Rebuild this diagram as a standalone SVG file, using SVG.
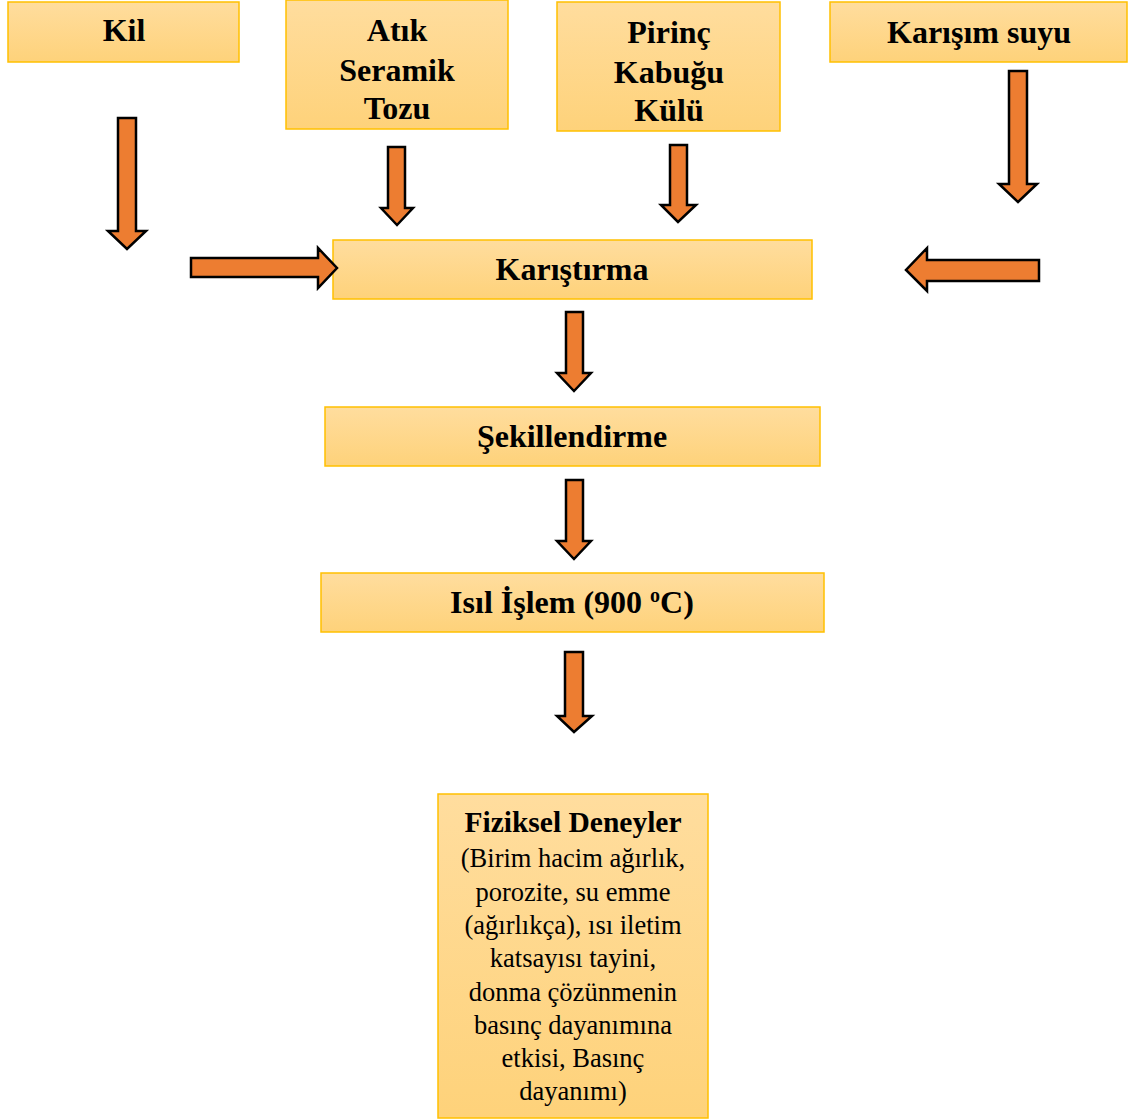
<svg xmlns="http://www.w3.org/2000/svg" width="1128" height="1119" viewBox="0 0 1128 1119">
<defs>
<linearGradient id="g" x1="0" y1="0" x2="0" y2="1">
<stop offset="0" stop-color="#FFDD9E"/>
<stop offset="1" stop-color="#FED27A"/>
</linearGradient>
<style>
.box{fill:url(#g);stroke:#FFC000;stroke-width:1.5}
.t{font-family:"Liberation Serif","Times New Roman",serif;font-weight:bold;font-size:32px;text-anchor:middle;fill:#000}
.b{font-family:"Liberation Serif","Times New Roman",serif;font-size:26.5px;text-anchor:middle;fill:#000}
.bt{font-family:"Liberation Serif","Times New Roman",serif;font-weight:bold;font-size:29.5px;text-anchor:middle;fill:#000}
.ar{fill:#ED7D31;stroke:#000;stroke-width:2.5;stroke-linejoin:miter}
</style>
</defs>
<rect width="1128" height="1119" fill="#fff"/>
<g id="kil"><rect class="box" x="8" y="2" width="231" height="60"/><text class="t" x="124" y="41">Kil</text></g>
<g id="atik"><rect class="box" x="286" y="0" width="222" height="129"/>
<text class="t" x="397" y="41">Atık</text><text class="t" x="397" y="81">Seramik</text><text class="t" x="397" y="119">Tozu</text></g>
<g id="pirinc"><rect class="box" x="557" y="2" width="223" height="129"/>
<text class="t" x="669" y="43">Pirinç</text><text class="t" x="669" y="83">Kabuğu</text><text class="t" x="669" y="121">Külü</text></g>
<g id="karisim"><rect class="box" x="830" y="2" width="297" height="60"/><text class="t" x="979" y="43">Karışım suyu</text></g>
<g id="karistirma"><rect class="box" x="333" y="240" width="479" height="59"/><text class="t" x="572" y="280">Karıştırma</text></g>
<g id="sekil"><rect class="box" x="325" y="407" width="495" height="59"/><text class="t" x="572" y="447">Şekillendirme</text></g>
<g id="isil"><rect class="box" x="321" y="573" width="503" height="59"/><text class="t" x="572" y="613">Isıl İşlem (900 <tspan font-size="20" dy="-11">o</tspan><tspan dy="11">C)</tspan></text></g>
<g id="fiziksel"><rect class="box" x="438" y="794" width="270" height="324"/>
<text class="bt" x="573" y="832">Fiziksel Deneyler</text>
<text class="b" x="573" y="867">(Birim hacim ağırlık,</text>
<text class="b" x="573" y="901">porozite, su emme</text>
<text class="b" x="573" y="934">(ağırlıkça), ısı iletim</text>
<text class="b" x="573" y="967">katsayısı tayini,</text>
<text class="b" x="573" y="1001">donma çözünmenin</text>
<text class="b" x="573" y="1034">basınç dayanımına</text>
<text class="b" x="573" y="1067">etkisi, Basınç</text>
<text class="b" x="573" y="1100">dayanımı)</text></g>
<g id="connectors">
<polygon class="ar" points="118,118 136,118 136,231 146,231 127,249 108,231 118,231"/>
<polygon class="ar" points="388,147 405,147 405,208 413,208 397,225 381,208 388,208"/>
<polygon class="ar" points="670,145 687,145 687,205 696,205 678,222 661,205 670,205"/>
<polygon class="ar" points="1009,71 1027,71 1027,184 1037,184 1018,202 999,184 1009,184"/>
<polygon class="ar" points="191,258 318,258 318,248 337,268 318,288 318,277 191,277"/>
<polygon class="ar" points="1039,260 927,260 927,248 906,270 927,291 927,281 1039,281"/>
<polygon class="ar" points="566,312 583,312 583,373 591,373 574,391 557,373 566,373"/>
<polygon class="ar" points="566,480 583,480 583,541 591,541 574,559 557,541 566,541"/>
<polygon class="ar" points="565,652 583,652 583,716 592,716 574,732 557,716 565,716"/>
</g>
</svg>
